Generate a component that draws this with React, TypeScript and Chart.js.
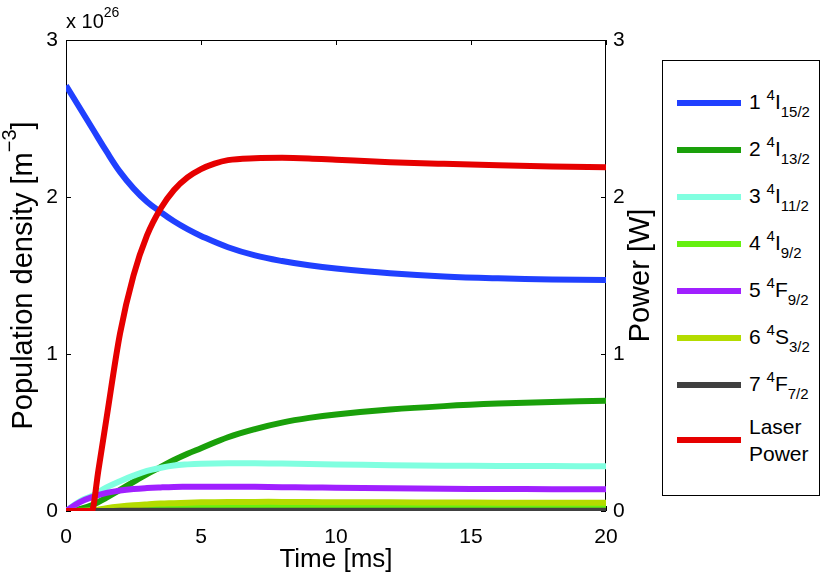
import { useEffect, useRef } from "react";
import { Chart, registerables } from "chart.js";

Chart.register(...registerables);

const FONT = '"Liberation Sans", Arial, Helvetica, sans-serif';

// time axis in ms, population in units of 1e26 m^-3, power in W
const popTime = [0, 0.5, 1, 1.5, 2, 2.5, 3, 3.5, 4, 4.5, 5, 6, 7, 8, 9, 10, 12, 14, 16, 18, 20];
const level1 = [2.71, 2.57, 2.43, 2.29, 2.16, 2.055, 1.97, 1.905, 1.845, 1.795, 1.752, 1.68, 1.628, 1.592, 1.565, 1.545, 1.515, 1.494, 1.482, 1.475, 1.471];
const level2 = [0, 0.012, 0.04, 0.085, 0.135, 0.185, 0.235, 0.28, 0.325, 0.365, 0.4, 0.47, 0.522, 0.563, 0.593, 0.615, 0.646, 0.668, 0.684, 0.695, 0.702];
const level3 = [0, 0.06, 0.1, 0.15, 0.19, 0.225, 0.255, 0.275, 0.29, 0.297, 0.301, 0.304, 0.304, 0.302, 0.299, 0.296, 0.292, 0.289, 0.287, 0.286, 0.285];
const level4 = [0, 0, 0.002, 0.008, 0.013, 0.018, 0.022, 0.025, 0.027, 0.029, 0.03, 0.031, 0.032, 0.032, 0.032, 0.032, 0.031, 0.031, 0.031, 0.03, 0.03];
const level5 = [0, 0.055, 0.09, 0.115, 0.13, 0.14, 0.146, 0.15, 0.153, 0.154, 0.155, 0.155, 0.154, 0.152, 0.15, 0.148, 0.145, 0.142, 0.14, 0.139, 0.138];
const level6 = [0, 0.001, 0.005, 0.018, 0.028, 0.036, 0.042, 0.047, 0.05, 0.053, 0.055, 0.057, 0.058, 0.058, 0.057, 0.056, 0.055, 0.054, 0.053, 0.053, 0.052];
const level7 = [0, 0, 0, 0, 0.001, 0.001, 0.001, 0.001, 0.001, 0.001, 0.001, 0.001, 0.001, 0.001, 0.001, 0.001, 0.001, 0.001, 0.001, 0.001, 0.001];

const laserTime = [0, 0.95, 1.2, 1.5, 2, 2.5, 3, 3.5, 4, 4.5, 5, 5.5, 6, 7, 8, 9, 10, 12, 14, 16, 18, 20];
const laserPower = [0, 0, 0.26, 0.59, 1.13, 1.5, 1.755, 1.925, 2.045, 2.125, 2.178, 2.213, 2.235, 2.247, 2.25, 2.246, 2.238, 2.222, 2.211, 2.202, 2.195, 2.19];

const levels = [level1, level2, level3, level4, level5, level6, level7];
const levelNumbers = ["1", "2", "3", "4", "5", "6", "7"];
const termLetters = ["I", "I", "I", "I", "F", "S", "F"];
const termJ = ["15/2", "13/2", "11/2", "9/2", "9/2", "3/2", "7/2"];
const levelColors = ["#2040ff", "#1aa00a", "#80ffe0", "#66f010", "#a020ff", "#b4dc00", "#404040"];
const laserColor = "#e60000";

const timeTicks = [0, 5, 10, 15, 20];
const yTicks = [0, 1, 2, 3];

type Part = { text: string; kind?: "sup" | "sub" };

function drawRich(ctx: CanvasRenderingContext2D, parts: Part[], x: number, y: number, size: number, align: "left" | "center") {
  const fontFor = (p: Part) => `${p.kind ? Math.round(size * 0.7) : size}px ${FONT}`;
  const widths = parts.map((p) => {
    ctx.font = fontFor(p);
    return ctx.measureText(p.text).width;
  });
  const total = widths.reduce((a, b) => a + b, 0);
  let cx = align === "center" ? x - total / 2 : x;
  ctx.textAlign = "left";
  ctx.textBaseline = "middle";
  parts.forEach((p, i) => {
    ctx.font = fontFor(p);
    const dy = p.kind === "sup" ? -size * 0.45 : p.kind === "sub" ? size * 0.35 : 0;
    ctx.fillText(p.text, cx, y + dy);
    cx += widths[i];
  });
}

// axes box with inward ticks, drawn under the lines
const boxPlugin = {
  id: "box",
  beforeDatasetsDraw(chart: Chart) {
    const { ctx, chartArea } = chart;
    const { left, right, top, bottom } = chartArea;
    const x = chart.scales.x;
    const y = chart.scales.y;
    const tl = 5;
    ctx.save();
    ctx.strokeStyle = "#000";
    ctx.lineWidth = 1;
    ctx.strokeRect(left + 0.5, top + 0.5, right - left - 1, bottom - top - 1);
    ctx.beginPath();
    timeTicks.forEach((t) => {
      const px = Math.round(x.getPixelForValue(t)) + 0.5;
      ctx.moveTo(px, bottom);
      ctx.lineTo(px, bottom - tl);
      ctx.moveTo(px, top);
      ctx.lineTo(px, top + tl);
    });
    yTicks.forEach((v) => {
      const py = Math.round(y.getPixelForValue(v)) + 0.5;
      ctx.moveTo(left, py);
      ctx.lineTo(left + tl, py);
      ctx.moveTo(right, py);
      ctx.lineTo(right - tl, py);
    });
    ctx.stroke();
    ctx.restore();
  },
  afterDraw(chart: Chart) {
    const { ctx, chartArea } = chart;
    const midY = (chartArea.top + chartArea.bottom) / 2;
    ctx.save();
    ctx.fillStyle = "#000";
    drawRich(ctx, [{ text: "x 10" }, { text: "26", kind: "sup" }], chartArea.left, 22, 20, "left");

    ctx.save();
    ctx.translate(24, midY);
    ctx.rotate(-Math.PI / 2);
    drawRich(ctx, [{ text: "Population density [m" }, { text: "\u22123", kind: "sup" }, { text: "]" }], 0, 0, 29, "center");
    ctx.restore();

    ctx.save();
    ctx.translate(chartArea.right + 35, midY);
    ctx.rotate(-Math.PI / 2);
    drawRich(ctx, [{ text: "Power [W]" }], 0, 0, 29, "center");
    ctx.restore();
    ctx.restore();
  },
};

function LegendBox() {
  const rowStyle = { display: "flex", alignItems: "center", height: 47 } as const;
  const swatch = (color: string) => (
    <span style={{ display: "inline-block", width: 64, height: 6, background: color, marginLeft: 14, marginRight: 8 }} />
  );
  return (
    <div
      style={{
        position: "absolute",
        left: 662,
        top: 60,
        width: 158,
        height: 436,
        boxSizing: "border-box",
        border: "1px solid #000",
        background: "#fff",
        paddingTop: 18,
        fontFamily: FONT,
        fontSize: 21,
        color: "#000",
      }}
    >
      {levelNumbers.map((n, i) => (
        <div key={n} style={rowStyle}>
          {swatch(levelColors[i])}
          <span style={{ whiteSpace: "nowrap", lineHeight: "21px" }}>
            {n}{" "}
            <span style={{ fontSize: 15, position: "relative", top: -9 }}>4</span>
            {termLetters[i]}
            <span style={{ fontSize: 15, position: "relative", top: 8 }}>{termJ[i]}</span>
          </span>
        </div>
      ))}
      <div style={{ ...rowStyle, height: 64 }}>
        {swatch(laserColor)}
        <span style={{ lineHeight: "27px" }}>
          Laser
          <br />
          Power
        </span>
      </div>
    </div>
  );
}

export default function App() {
  const canvasRef = useRef<HTMLCanvasElement>(null);
  const chartRef = useRef<Chart | null>(null);

  useEffect(() => {
    if (!canvasRef.current) return;
    if (chartRef.current) chartRef.current.destroy();

    Chart.defaults.font.family = FONT;
    Chart.defaults.color = "#000";

    const datasets: any[] = levels.map((vals, i) => ({
      label: `${levelNumbers[i]} 4${termLetters[i]}${termJ[i]}`,
      data: popTime.map((t, k) => ({ x: t, y: vals[k] })),
      borderColor: levelColors[i],
      borderWidth: 6,
      pointRadius: 0,
      tension: 0.4,
      yAxisID: "y",
      order: 8 - i,
    }));
    datasets.push({
      label: "Laser Power",
      data: laserTime.map((t, k) => ({ x: t, y: laserPower[k] })),
      borderColor: laserColor,
      borderWidth: 6,
      pointRadius: 0,
      cubicInterpolationMode: "monotone",
      borderJoinStyle: "round",
      yAxisID: "y1",
      order: 0,
    });

    chartRef.current = new Chart(canvasRef.current, {
      type: "line",
      data: { datasets },
      plugins: [boxPlugin],
      options: {
        animation: false,
        responsive: false,
        layout: { padding: { top: 40, right: 170, left: 0, bottom: 0 } },
        plugins: { legend: { display: false }, tooltip: { enabled: false } },
        scales: {
          x: {
            type: "linear",
            min: 0,
            max: 20,
            afterFit: (s: any) => {
              s.height = 70;
            },
            afterBuildTicks: (s: any) => {
              s.ticks = timeTicks.map((v) => ({ value: v }));
            },
            ticks: { font: { size: 21 }, padding: 14, maxRotation: 0, color: "#000" },
            grid: { display: false, drawTicks: false },
            border: { display: false },
            title: { display: true, text: "Time [ms]", font: { size: 26 }, padding: { bottom: 6, top: 0 }, color: "#000" },
          },
          y: {
            position: "left",
            min: 0,
            max: 3,
            afterFit: (s: any) => {
              s.width = 66;
            },
            afterBuildTicks: (s: any) => {
              s.ticks = yTicks.map((v) => ({ value: v }));
            },
            ticks: { font: { size: 21 }, padding: 8, color: "#000" },
            grid: { display: false, drawTicks: false },
            border: { display: false },
          },
          y1: {
            position: "right",
            min: 0,
            max: 3,
            afterFit: (s: any) => {
              s.width = 54;
            },
            afterBuildTicks: (s: any) => {
              s.ticks = yTicks.map((v) => ({ value: v }));
            },
            ticks: { font: { size: 21 }, padding: 7, color: "#000" },
            grid: { display: false, drawTicks: false },
            border: { display: false },
          },
        },
      },
    });

    return () => {
      if (chartRef.current) {
        chartRef.current.destroy();
        chartRef.current = null;
      }
    };
  }, []);

  return (
    <div style={{ position: "absolute", left: 0, top: 0, width: 830, height: 581, background: "#fff" }}>
      <canvas ref={canvasRef} width={830} height={581} style={{ position: "absolute", left: 0, top: 0 }} />
      <LegendBox />
    </div>
  );
}
